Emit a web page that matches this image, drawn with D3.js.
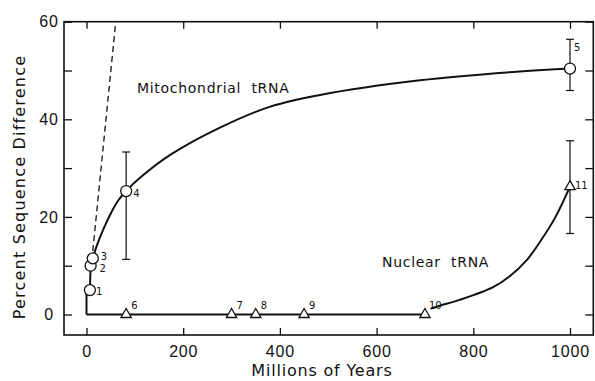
<!DOCTYPE html>
<html>
<head>
<meta charset="utf-8">
<script src="https://cdn.jsdelivr.net/npm/d3@7"></script>
<style>
  body { margin: 0; background: #fff; }
  svg { display: block; font-family: "DejaVu Sans", sans-serif; }
  .axis text { font-size: 16px; fill: #111; letter-spacing: 0.8px; }
  .axis line { stroke: #111; stroke-width: 1.3; }
</style>
</head>
<body>
<div id="chart"></div>
<script>
// values
var xTicks = [0, 200, 400, 600, 800, 1000];
var yTicks = [0, 10, 20, 30, 40, 50, 60];
var yLabels = [0, 20, 40, 60];

// mitochondrial tRNA points 1-5: [Myr, % difference]
var mitoIds = ["1", "2", "3", "4", "5"];
var mitoPoints = [[7, 5], [8.5, 10], [13, 11.5], [82, 25.3], [1000, 50.4]];
var mitoErr = [null, null, null, [11.3, 33.3], [45.9, 56.4]];

// nuclear tRNA points 6-11
var nucIds = ["6", "7", "8", "9", "10", "11"];
var nucPoints = [[82, 0], [300, 0], [350, 0], [450, 0], [700, 0], [1000, 26.2]];
var nucErr = [null, null, null, null, null, [16.6, 35.6]];

// fitted curves
var mitoStem = [[0, 0], [0, 5], [7, 5], [8.5, 10], [13, 11.5]];
var mitoCurve = [[13, 11.5], [21.7, 14.2], [34.1, 17.3], [48.6, 20.4], [65.2, 23.3], [82, 25.3],
  [110.6, 28], [173, 32.7], [276, 38.3], [380, 42.6], [483, 45], [690, 48], [896, 49.8], [1000, 50.4]];
var nucFlat = [[0, 0], [700, 0]];
var nucCurve = [[712, 1.2], [731, 1.8], [772, 3], [841, 5.6], [876, 7.9], [911, 11.2],
  [938, 14.9], [969, 19.8], [1000, 26.2]];
var dashLine = [[13, 13], [60.5, 60]];

var W = 595, H = 381;
var fL = 64, fR = 593.3, fT = 21.7, fB = 335;

var x = d3.scaleLinear().domain([0, 1000]).range([86.5, 570]);
var y = d3.scaleLinear().domain([0, 60]).range([314.5, 21.7]);

var svg = d3.select("#chart").append("svg")
    .attr("width", W)
    .attr("height", H);

// ticks on all four sides, pointing inward
svg.append("g")
    .attr("class", "axis")
    .attr("transform", "translate(0," + fB + ")")
    .call(d3.axisBottom(x).tickValues(xTicks).tickSize(-7).tickPadding(11).tickSizeOuter(0)
      .tickFormat(d3.format("d")))
    .call(function(g) { g.select(".domain").remove(); });

svg.append("g")
    .attr("class", "axis")
    .attr("transform", "translate(0," + fT + ")")
    .call(d3.axisTop(x).tickValues(xTicks).tickSize(-7).tickFormat("").tickSizeOuter(0))
    .call(function(g) { g.select(".domain").remove(); });

var yAxis = svg.append("g")
    .attr("class", "axis")
    .attr("transform", "translate(" + fL + ",0)")
    .call(d3.axisLeft(y).tickValues(yTicks).tickSize(-8).tickSizeOuter(0)
      .tickFormat(function(d) { return yLabels.indexOf(d) >= 0 ? d : ""; }));
yAxis.select(".domain").remove();
yAxis.selectAll("text")
    .attr("x", -15)
    .attr("text-anchor", "middle");

svg.append("g")
    .attr("class", "axis")
    .attr("transform", "translate(" + fR + ",0)")
    .call(d3.axisRight(y).tickValues(yTicks).tickSize(-8).tickFormat("").tickSizeOuter(0))
    .call(function(g) { g.select(".domain").remove(); });

// frame
svg.append("rect")
    .attr("x", fL)
    .attr("y", fT)
    .attr("width", fR - fL)
    .attr("height", fB - fT)
    .attr("fill", "none")
    .attr("stroke", "#111")
    .attr("stroke-width", 1.6);

var straight = d3.line().x(function(d) { return x(d[0]); }).y(function(d) { return y(d[1]); });
var smooth = d3.line().x(function(d) { return x(d[0]); }).y(function(d) { return y(d[1]); })
    .curve(d3.curveCatmullRom.alpha(0.5));

svg.append("path").attr("d", straight(dashLine))
    .attr("fill", "none").attr("stroke", "#111").attr("stroke-width", 1.3)
    .attr("stroke-dasharray", "6,4");

[straight(mitoStem), smooth(mitoCurve), straight(nucFlat), smooth(nucCurve)].forEach(function(p) {
  svg.append("path").attr("d", p)
      .attr("fill", "none").attr("stroke", "#111").attr("stroke-width", 2);
});

// error bars
function errorBars(points, errs) {
  points.forEach(function(p, i) {
    var e = errs[i];
    if (!e) return;
    var g = svg.append("g").attr("stroke", "#111").attr("stroke-width", 1.2);
    g.append("line").attr("x1", x(p[0])).attr("x2", x(p[0])).attr("y1", y(e[0])).attr("y2", y(e[1]));
    g.append("line").attr("x1", x(p[0]) - 4).attr("x2", x(p[0]) + 4).attr("y1", y(e[0])).attr("y2", y(e[0]));
    g.append("line").attr("x1", x(p[0]) - 4).attr("x2", x(p[0]) + 4).attr("y1", y(e[1])).attr("y2", y(e[1]));
  });
}
errorBars(mitoPoints, mitoErr);
errorBars(nucPoints, nucErr);

// markers
svg.selectAll(".mito")
    .data(mitoPoints)
    .enter().append("circle")
    .attr("class", "mito")
    .attr("cx", function(d) { return x(d[0]); })
    .attr("cy", function(d) { return y(d[1]); })
    .attr("r", 5.5)
    .attr("fill", "#fff")
    .attr("stroke", "#111")
    .attr("stroke-width", 1.3);

svg.selectAll(".nuc")
    .data(nucPoints)
    .enter().append("path")
    .attr("class", "nuc")
    .attr("transform", function(d) { return "translate(" + x(d[0]) + "," + y(d[1]) + ")"; })
    .attr("d", d3.symbol().type(d3.symbolTriangle).size(46))
    .attr("fill", "#fff")
    .attr("stroke", "#111")
    .attr("stroke-width", 1.3);

// point numbers
var mitoOff = [[6, 5], [9, 6], [8, 2], [7, 6], [4, -18]];
var nucOff = [[5, -6], [5, -6], [5, -6], [5, -6], [4, -6], [5, 2]];
function numbers(points, ids, off) {
  svg.selectAll(null)
      .data(points)
      .enter().append("text")
      .attr("x", function(d, i) { return x(d[0]) + off[i][0]; })
      .attr("y", function(d, i) { return y(d[1]) + off[i][1]; })
      .attr("font-size", 10)
      .attr("fill", "#111")
      .text(function(d, i) { return ids[i]; });
}
numbers(mitoPoints, mitoIds, mitoOff);
numbers(nucPoints, nucIds, nucOff);

// curve labels
svg.append("text").attr("x", 137).attr("y", 93).attr("font-size", 14).attr("letter-spacing", 0.7)
    .attr("fill", "#111").text("Mitochondrial\u00a0 tRNA");
svg.append("text").attr("x", 382).attr("y", 267).attr("font-size", 14).attr("letter-spacing", 0.7)
    .attr("fill", "#111").text("Nuclear\u00a0 tRNA");

// axis titles
svg.append("text").attr("x", 322).attr("y", 376).attr("text-anchor", "middle")
    .attr("font-size", 16).attr("letter-spacing", 0.8).attr("fill", "#111").text("Millions of Years");
svg.append("text").attr("transform", "translate(25,187) rotate(-90)").attr("text-anchor", "middle")
    .attr("font-size", 16).attr("letter-spacing", 1.2).attr("fill", "#111").text("Percent Sequence Difference");
</script>
</body>
</html>
